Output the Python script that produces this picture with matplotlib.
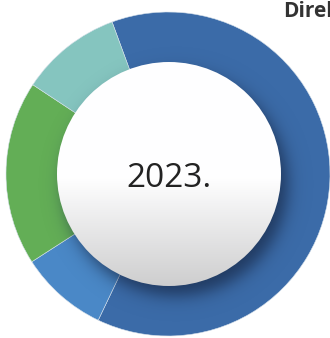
import numpy as np
import matplotlib.pyplot as plt
from matplotlib.patches import Circle

# share of each segment, clockwise from the upper-left boundary
labels = ['Direktni', 'Segment B', 'Segment C', 'Segment D']
shares = [62.7, 8.8, 18.4, 10.1]
colors = ['#3b6ba8', '#4a88c7', '#63ae56', '#85c5bf']
year_label = '2023.'
title = 'Direktni'

W, H = 330, 338
fig = plt.figure(figsize=(W / 100, H / 100), dpi=100)
ax = fig.add_axes([0, 0, 1, 1])

cx, cy = 168, H - 174
r_out, r_in = 162, 112

ax.pie(shares, colors=colors, startangle=110.2, counterclock=False,
       center=(cx, cy), radius=r_out,
       wedgeprops=dict(linewidth=0.4, edgecolor='#d5e0ea'))

# soft drop shadow of the centre disc, falling to the lower right
xs = np.linspace(cx - 150, cx + 150, 301)
ys = np.linspace(cy - 150, cy + 150, 301)
gx, gy = np.meshgrid(xs, ys)
d = np.hypot(gx - (cx + 8), gy - (cy - 10))
alpha = 0.72 * 0.5 * (1 - np.tanh((d - r_in) / 10.0))
# keep the shadow on the ring only
alpha[np.hypot(gx - cx, gy - cy) > r_out - 1] = 0
shadow = np.zeros(gx.shape + (4,))
shadow[..., 0] = 0.09
shadow[..., 1] = 0.15
shadow[..., 2] = 0.27
shadow[..., 3] = alpha
ax.imshow(shadow, extent=(xs[0], xs[-1], ys[0], ys[-1]), origin='lower',
          zorder=3, interpolation='bilinear')

# centre disc: white on top, fading to light grey at the bottom
disc_cx = cx + 1
disc = Circle((disc_cx, cy), r_in, facecolor='none', edgecolor='none', zorder=4)
ax.add_patch(disc)
t = np.linspace(0, 1, 256)[:, None]
shade = np.where(t < 0.52, 1.0, 1.0 - (t - 0.52) / 0.48 * 0.19)
grad = np.dstack([shade * 0.997, shade * 0.997, shade, np.ones_like(shade)])
grad = np.repeat(grad, 2, axis=1)
img = ax.imshow(grad, extent=(disc_cx - r_in, disc_cx + r_in, cy - r_in, cy + r_in),
                origin='upper', zorder=5, interpolation='bilinear')
img.set_clip_path(disc)

ax.text(disc_cx, H - 187, year_label, ha='center', va='baseline', fontsize=24,
        family='Open Sans', color='#222222', zorder=6)
ax.text(283, H - 1, title, ha='left', va='top', fontsize=15,
        family='Open Sans', fontweight='bold', color='#333333', zorder=6)

ax.set_xlim(0, W)
ax.set_ylim(0, H)
ax.set_aspect('equal')
ax.axis('off')

fig.savefig('out.png', dpi=100)
